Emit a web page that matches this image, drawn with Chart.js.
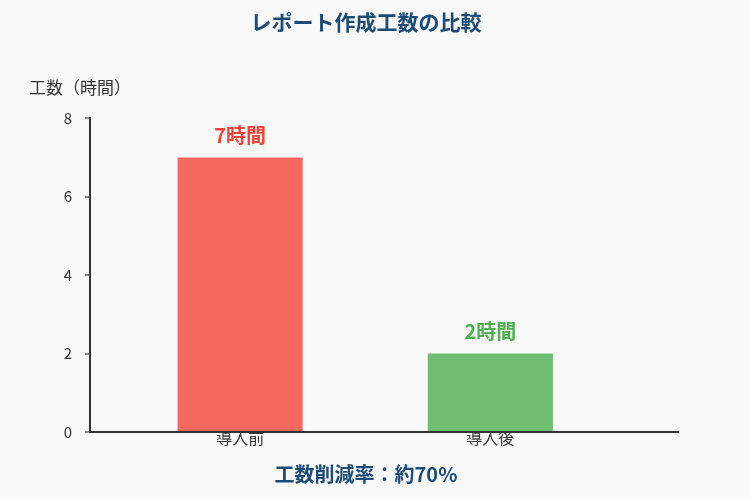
<!DOCTYPE html>
<html lang="ja">
<head>
  <meta charset="UTF-8" />
  <title>レポート作成工数の比較</title>
  <script src="https://cdn.jsdelivr.net/npm/chart.js"></script>
  <style>
    body {
      margin: 0;
      background: #f9f9f9;
    }
    canvas {
      display: block;
      background: #f9f9f9;
    }
  </style>
</head>
<body>

<canvas id="chart" width="750" height="499"></canvas>

<script>
  // data
  const categories = ["導入前", "導入後"];
  const hours = [7, 2];
  const barColors = ["rgba(244, 67, 54, 0.8)", "rgba(76, 175, 80, 0.8)"];
  const labelColors = ["#f44336", "#4caf50"];
  const yTicks = [0, 2, 4, 6, 8];

  const titleText = "レポート作成工数の比較";
  const yAxisText = "工数（時間）";
  const footText = "工数削減率：約70%";
  const navy = "#1b4b78";
  const fontFamily = "'Noto Sans CJK JP', 'Noto Sans', sans-serif";

  Chart.defaults.font.family = fontFamily;
  Chart.defaults.color = "#333";

  // y axis caption sits horizontally above the axis, plus value labels on the bars
  const extras = {
    id: "extras",
    afterDatasetsDraw(chart) {
      const ctx = chart.ctx;
      ctx.save();
      ctx.textAlign = "center";
      ctx.textBaseline = "middle";
      ctx.font = "bold 20px " + fontFamily;
      chart.getDatasetMeta(0).data.forEach((bar, i) => {
        ctx.fillStyle = labelColors[i];
        ctx.fillText(hours[i] + "時間", bar.x, bar.y - 22);
      });
      ctx.textAlign = "left";
      ctx.font = "17px " + fontFamily;
      ctx.fillStyle = "#333";
      ctx.fillText(yAxisText, 29, 88);
      ctx.restore();
    }
  };

  new Chart(document.getElementById("chart"), {
    type: "bar",
    data: {
      datasets: [{
        data: categories.map((c, i) => ({ x: i, y: hours[i] })),
        backgroundColor: barColors,
        borderWidth: 0,
        categoryPercentage: 1,
        barPercentage: 0.5
      }]
    },
    options: {
      responsive: false,
      animation: false,
      layout: { padding: { left: 0, right: 18, top: 0, bottom: 0 } },
      plugins: {
        legend: { display: false },
        tooltip: { enabled: false },
        title: {
          display: true,
          text: titleText,
          color: navy,
          font: { size: 21, weight: "bold" },
          padding: { top: 9, bottom: 84 }
        },
        subtitle: {
          display: true,
          position: "bottom",
          text: footText,
          color: navy,
          font: { size: 20, weight: "bold" },
          padding: { top: 10, bottom: 13 }
        }
      },
      scales: {
        x: {
          type: "linear",
          offset: false,
          min: -0.6,
          max: 1.75,
          grid: { display: false, drawTicks: false, offset: false },
          border: { color: "#333", width: 2 },
          afterBuildTicks: s => { s.ticks = categories.map((c, i) => ({ value: i })); },
          afterFit: s => { s.height = 20; },
          ticks: {
            padding: -4,
            font: { size: 16 },
            color: "#333",
            callback: v => categories[v]
          }
        },
        y: {
          min: 0,
          max: 8,
          afterBuildTicks: s => { s.ticks = yTicks.map(v => ({ value: v })); },
          afterFit: s => { s.width = 90; },
          grid: {
            drawOnChartArea: false,
            drawTicks: true,
            tickLength: 5,
            color: "#888",
            lineWidth: 2
          },
          border: { color: "#333", width: 2 },
          ticks: { padding: 13, font: { size: 15 }, color: "#333" }
        },
        pad: {
          type: "linear",
          position: "right",
          display: true,
          grid: { display: false },
          border: { display: false },
          ticks: { display: false },
          afterFit: s => { s.width = 54; }
        }
      }
    },
    plugins: [extras]
  });
</script>

</body>
</html>
